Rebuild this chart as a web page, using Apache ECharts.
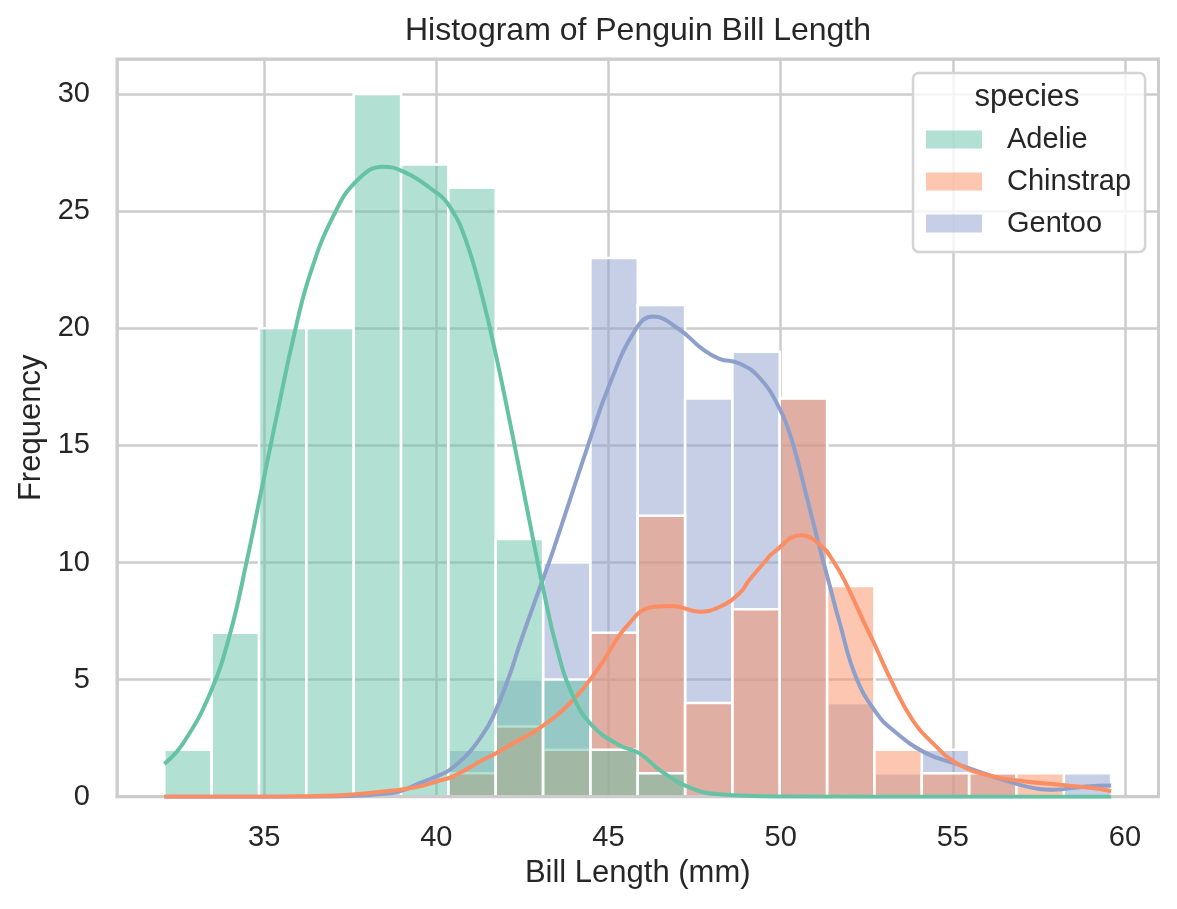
<!DOCTYPE html>
<html>
<head>
<meta charset="utf-8">
<title>Histogram of Penguin Bill Length</title>
<script src="https://cdn.jsdelivr.net/npm/echarts@6/dist/echarts.min.js"></script>
<style>
  html, body { margin: 0; padding: 0; background: #ffffff; }
  #chart { width: 1177px; height: 909px; }
</style>
</head>
<body>
<div id="chart"></div>
<script>
// bin edges shared by all species (mm)
const binEdges = [32.1, 33.475, 34.85, 36.225, 37.6, 38.975, 40.35, 41.725, 43.1, 44.475, 45.85,
                  47.225, 48.6, 49.975, 51.35, 52.725, 54.1, 55.475, 56.85, 58.225, 59.6];

// counts per bin
const adelieCounts    = [2, 7, 20, 20, 30, 27, 26, 11, 5, 2, 1, 0, 0, 0, 0, 0, 0, 0, 0, 0];
const chinstrapCounts = [0, 0, 0, 0, 0, 0, 1, 3, 2, 7, 12, 4, 8, 17, 9, 2, 1, 1, 1, 0];
const gentooCounts    = [0, 0, 0, 0, 0, 0, 2, 5, 10, 23, 21, 17, 19, 17, 4, 1, 2, 1, 0, 1];

// density curves (x in mm, y in count units)
const adelieKdeX = [32.1, 32.65, 33.43, 34.01, 34.5, 34.88, 35.37, 35.85, 36.33, 37.01, 37.69, 38.45, 39.03,
                    39.9, 40.39, 40.87, 41.36, 41.74, 42.04, 42.42, 42.81, 43.1, 43.49, 43.97, 44.55, 45.32,
                    45.9, 46.48, 47.26, 48.22, 50.0, 55.0, 59.6];
const adelieKdeY = [1.4, 2.29, 4.42, 6.97, 10.1, 12.8, 16.3, 19.6, 22.3, 24.8, 26.3, 26.9, 26.7,
                    25.9, 25.2, 23.7, 21.2, 18.8, 16.7, 13.9, 11.0, 8.9, 6.4, 4.3, 3.0, 2.2,
                    1.85, 1.15, 0.45, 0.1, 0.01, 0, 0];

const chinstrapKdeX = [32.1, 35.5, 36.5, 37.49, 38.94, 39.52, 40.01, 40.49, 41.36, 41.74, 42.13, 43.0, 43.97,
                       44.74, 45.52, 46.29, 46.87, 47.64, 48.22, 48.8, 49.09, 49.58, 49.77, 50.59, 51.22,
                       51.51, 51.85, 52.48, 52.67, 53.25, 53.83, 54.41, 55.19, 56.16, 57.12, 58.09,
                       59.06, 59.6];
const chinstrapKdeY = [0, 0, 0.03, 0.08, 0.3, 0.44, 0.65, 0.87, 1.58, 1.86, 2.2, 2.93, 4.13,
                       5.55, 7.26, 8.1, 8.14, 7.9, 8.1, 8.68, 9.25, 10.1, 10.4, 11.16, 10.66,
                       10.1, 9.25, 7.26, 6.69, 4.84, 3.28, 2.3, 1.36, 0.87, 0.65, 0.51,
                       0.37, 0.23];

const gentooKdeX = [32.1, 36.5, 37.5, 38.3, 38.94, 39.52, 40.01, 40.39, 40.87, 41.25, 41.64, 42.13, 42.42, 43.0,
                    43.39, 44.36, 45.03, 45.81, 46.29, 47.06, 47.74, 48.22, 48.8, 49.38, 49.96, 50.35,
                    50.74, 51.12, 51.41, 51.7, 52.19, 52.77, 53.25, 54.22, 55.19, 56.16, 57.12, 57.9,
                    58.87, 59.6];
const gentooKdeY = [0, 0, 0.03, 0.1, 0.23, 0.58, 0.87, 1.15, 1.75, 2.45, 3.4, 5.2, 6.5, 8.9,
                    10.5, 14.8, 17.6, 20.0, 20.5, 19.95, 19.1, 18.7, 18.5, 17.9, 16.6, 15.1,
                    12.9, 10.7, 9.1, 7.5, 5.1, 3.6, 2.86, 1.86, 1.36, 0.87, 0.44, 0.3,
                    0.44, 0.48];

const xTicks = [35, 40, 45, 50, 55, 60];
const yTicks = [0, 5, 10, 15, 20, 25, 30];

const FONT = '"Liberation Sans", Arial, sans-serif';
const TEXT = '#262626';
const GRIDC = '#cccccc';

const colors = {
    Adelie: '#66c2a5',
    Chinstrap: '#fc8d62',
    Gentoo: '#8da0cb'
};
const fills = {
    Adelie: 'rgba(102,194,165,0.5)',
    Chinstrap: 'rgba(252,141,98,0.5)',
    Gentoo: 'rgba(141,160,203,0.5)'
};

function binRows(counts) {
    const rows = [];
    counts.forEach(function (c, i) {
        if (c > 0) rows.push([binEdges[i], binEdges[i + 1], c]);
    });
    return rows;
}

function zip(xs, ys) {
    return xs.map(function (x, i) { return [x, ys[i]]; });
}

function renderBar(params, api) {
    const top = api.coord([api.value(0), api.value(2)]);
    const base = api.coord([api.value(1), 0]);
    return {
        type: 'rect',
        shape: { x: top[0], y: top[1], width: base[0] - top[0], height: base[1] - top[1] },
        style: { fill: api.visual('color'), stroke: '#ffffff', lineWidth: 2.5 }
    };
}

function barSeries(name, counts) {
    return {
        name: name,
        type: 'custom',
        renderItem: renderBar,
        itemStyle: { color: fills[name] },
        encode: { x: [0, 1], y: 2 },
        data: binRows(counts),
        z: 2
    };
}

function kdeSeries(name, xs, ys) {
    return {
        name: name + ' kde',
        type: 'line',
        data: zip(xs, ys),
        showSymbol: false,
        smooth: 0.45,
        lineStyle: { color: colors[name], width: 4 },
        itemStyle: { color: colors[name] },
        z: 4
    };
}

const xMin = 30.725, xMax = 60.975;
const yMin = 0, yMax = 31.5;

const chart = echarts.init(document.getElementById('chart'), null, { renderer: 'canvas' });

const option = {
    animation: false,
    backgroundColor: '#ffffff',
    textStyle: { fontFamily: FONT },
    grid: {
        left: 117, top: 59, right: 18.5, bottom: 112.3,
        show: true, borderColor: GRIDC, borderWidth: 3,
        containLabel: false, outerBoundsMode: 'none'
    },
    xAxis: [{
        type: 'value',
        min: xMin, max: xMax,
        splitNumber: 6,
        name: 'Bill Length (mm)',
        nameLocation: 'middle',
        nameGap: 61,
        nameTextStyle: { fontSize: 31, color: TEXT, fontFamily: FONT },
        axisLine: { show: false },
        axisTick: { show: false },
        axisLabel: {
            fontSize: 29, color: TEXT, fontFamily: FONT, margin: 27,
            showMinLabel: false, showMaxLabel: false,
            formatter: function (v) { return xTicks.indexOf(v) >= 0 ? String(v) : ''; }
        },
        splitLine: { show: true, lineStyle: { color: GRIDC, width: 2.5 } }
    }, {
        type: 'value',
        min: xMin, max: xMax,
        position: 'bottom',
        axisLine: { show: true, lineStyle: { color: GRIDC, width: 3 } },
        axisTick: { show: false },
        axisLabel: { show: false },
        splitLine: { show: false },
        z: 3
    }],
    yAxis: {
        type: 'value',
        min: yMin, max: yMax,
        splitNumber: 6,
        name: 'Frequency',
        nameLocation: 'middle',
        nameGap: 66,
        nameTextStyle: { fontSize: 31, color: TEXT, fontFamily: FONT },
        axisLine: { show: false },
        axisTick: { show: false },
        axisLabel: {
            fontSize: 29, color: TEXT, fontFamily: FONT, margin: 27,
            showMaxLabel: false,
            formatter: function (v) { return yTicks.indexOf(v) >= 0 ? String(v) : ''; }
        },
        splitLine: { show: true, lineStyle: { color: GRIDC, width: 2.5 } }
    },
    legend: {
        orient: 'vertical',
        left: 913, top: 73,
        padding: [52, 14, 14, 13],
        itemWidth: 56, itemHeight: 18, itemGap: 13,
        icon: 'rect',
        selectedMode: false,
        data: ['Adelie', 'Chinstrap', 'Gentoo'],
        itemStyle: { borderWidth: 0 },
        textStyle: { fontSize: 29, lineHeight: 29, color: TEXT, fontFamily: FONT, padding: [0, 0, 0, 20] },
        backgroundColor: 'rgba(255,255,255,0.8)',
        borderColor: '#d4d4d4', borderWidth: 2.5, borderRadius: 6
    },
    graphic: [{
        type: 'text', x: 638, y: 31, z: 100,
        style: { text: 'Histogram of Penguin Bill Length', fontSize: 32, fontFamily: FONT, fill: TEXT,
                 align: 'center', verticalAlign: 'middle' }
    }, {
        type: 'text', x: 1027, y: 97, z: 100,
        style: { text: 'species', fontSize: 31, fontFamily: FONT, fill: TEXT,
                 align: 'center', verticalAlign: 'middle' }
    }],
    series: [
        // seaborn draws the last hue first, so Adelie ends up on top
        barSeries('Gentoo', gentooCounts),
        barSeries('Chinstrap', chinstrapCounts),
        barSeries('Adelie', adelieCounts),
        kdeSeries('Gentoo', gentooKdeX, gentooKdeY),
        kdeSeries('Chinstrap', chinstrapKdeX, chinstrapKdeY),
        kdeSeries('Adelie', adelieKdeX, adelieKdeY)
    ]
};

chart.setOption(option);
</script>
</body>
</html>
